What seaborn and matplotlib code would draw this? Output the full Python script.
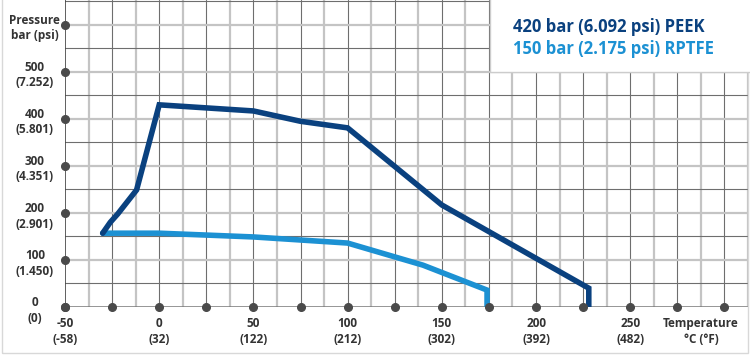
import matplotlib
matplotlib.use('Agg')
import numpy as np
import pandas as pd
import matplotlib.pyplot as plt
import seaborn as sns
from matplotlib.patches import Rectangle

# ------------------------------------------------------------------
# Data (temperature in °C, pressure in bar)
# ------------------------------------------------------------------
peek_temp = [-30, -26, -22, -12, 0, 50, 75, 100, 150, 228, 228]
peek_bar  = [157, 180, 198, 249, 430, 417, 395, 381, 217, 40, 0]

rptfe_temp = [-30, 0, 50, 100, 140, 174, 174]
rptfe_bar  = [157, 157, 149, 136, 89, 36, 0]

x_ticks  = [-50, 0, 50, 100, 150, 200, 250]
x_labels = ['-50\n(-58)', '0\n(32)', '50\n(122)', '100\n(212)',
            '150\n(302)', '200\n(392)', '250\n(482)']
y_ticks  = [0, 100, 200, 300, 400, 500]
y_labels = ['0\n(0)', '100\n(1.450)', '200\n(2.901)', '300\n(4.351)',
            '400\n(5.801)', '500\n(7.252)']

legend_labels = ['420 bar (6.092 psi) PEEK', '150 bar (2.175 psi) RPTFE']

DARK  = '#0a417f'
LIGHT = '#1c91d3'
TEXT  = '#333333'

sns.set_style('white')
plt.rcParams['font.family'] = ['Open Sans', 'DejaVu Sans']

fig = plt.figure(figsize=(7.5, 3.55), dpi=100)
ax = fig.add_axes([65 / 750, 48 / 355, 683 / 750, 307 / 355])

X0, X1 = -50, 312.5
Y0, Y1 = 0, 653
ax.set_xlim(X0, X1)
ax.set_ylim(Y0, Y1)

# grid: alternating thin dark / thicker light lines
for i, gx in enumerate(np.arange(-37.5, 312.6, 12.5)):
    if i % 2 == 0:
        ax.axvline(gx, color='#c4c4c4', lw=1.6, zorder=0)
    else:
        ax.axvline(gx, color='#6e6e6e', lw=0.8, zorder=0)
for gy in np.arange(50, 651, 50):
    if gy % 100 == 0:
        ax.axhline(gy, color='#c4c4c4', lw=1.6, zorder=0)
    else:
        ax.axhline(gy, color='#6e6e6e', lw=0.8, zorder=0)

# axis lines
ax.axvline(X0, color='#444444', lw=1.2, zorder=1)
ax.axhline(0, color='#777777', lw=1.8, zorder=1)

# curves
peek = pd.DataFrame({'temp': peek_temp, 'bar': peek_bar})
rptfe = pd.DataFrame({'temp': rptfe_temp, 'bar': rptfe_bar})
sns.lineplot(data=rptfe, x='temp', y='bar', sort=False, estimator=None,
             color=LIGHT, lw=4, ax=ax, zorder=3, solid_joinstyle='miter')
sns.lineplot(data=peek, x='temp', y='bar', sort=False, estimator=None,
             color=DARK, lw=4, ax=ax, zorder=3, solid_joinstyle='miter')

# dots on the axes
ax.plot(np.arange(-50, 301, 25), np.zeros(15), 'o', color='#4a4a4a',
        ms=5.5, zorder=5, clip_on=False)
ax.plot(np.full(7, X0), np.arange(0, 601, 100), 'o', color='#4a4a4a',
        ms=5.5, zorder=5, clip_on=False)

ax.set_xticks([])
ax.set_yticks([])
ax.set_xlabel('')
ax.set_ylabel('')
for s in ax.spines.values():
    s.set_visible(False)

# tick labels
lab_kw = dict(fontsize=8.5, color=TEXT, fontweight='bold', linespacing=1.25)
for xv, lab in zip(x_ticks, x_labels):
    ax.text(xv, -22, lab, ha='center', va='top', **lab_kw)
ax.text(287.5, -22, 'Temperature\n°C (°F)', ha='center', va='top', **lab_kw)
for yv, lab in zip(y_ticks, y_labels):
    ax.text(-66, yv - 7, lab, ha='center', va='center', clip_on=False,
            **lab_kw)
ax.text(-66, 593, 'Pressure\nbar (psi)', ha='center', va='center',
        clip_on=False, **lab_kw)

# legend box
fig.patches.append(Rectangle((490 / 750, 1 - 72 / 355), 262 / 750, 74 / 355,
                             transform=fig.transFigure, facecolor='white',
                             edgecolor='#cccccc', lw=1, zorder=10))
fig.text(513 / 750, 1 - 27 / 355, legend_labels[0], color=DARK,
         fontsize=12, fontweight='bold', va='center', ha='left', zorder=11)
fig.text(513 / 750, 1 - 49 / 355, legend_labels[1], color=LIGHT,
         fontsize=12, fontweight='bold', va='center', ha='left', zorder=11)

# thin outer frame
fig.patches.append(Rectangle((2 / 750, 2 / 355), 746 / 750, 355 / 355,
                             transform=fig.transFigure, facecolor='none',
                             edgecolor='#d8d8d8', lw=1, zorder=0))

plt.savefig('out.png', dpi=100)
plt.close(fig)
